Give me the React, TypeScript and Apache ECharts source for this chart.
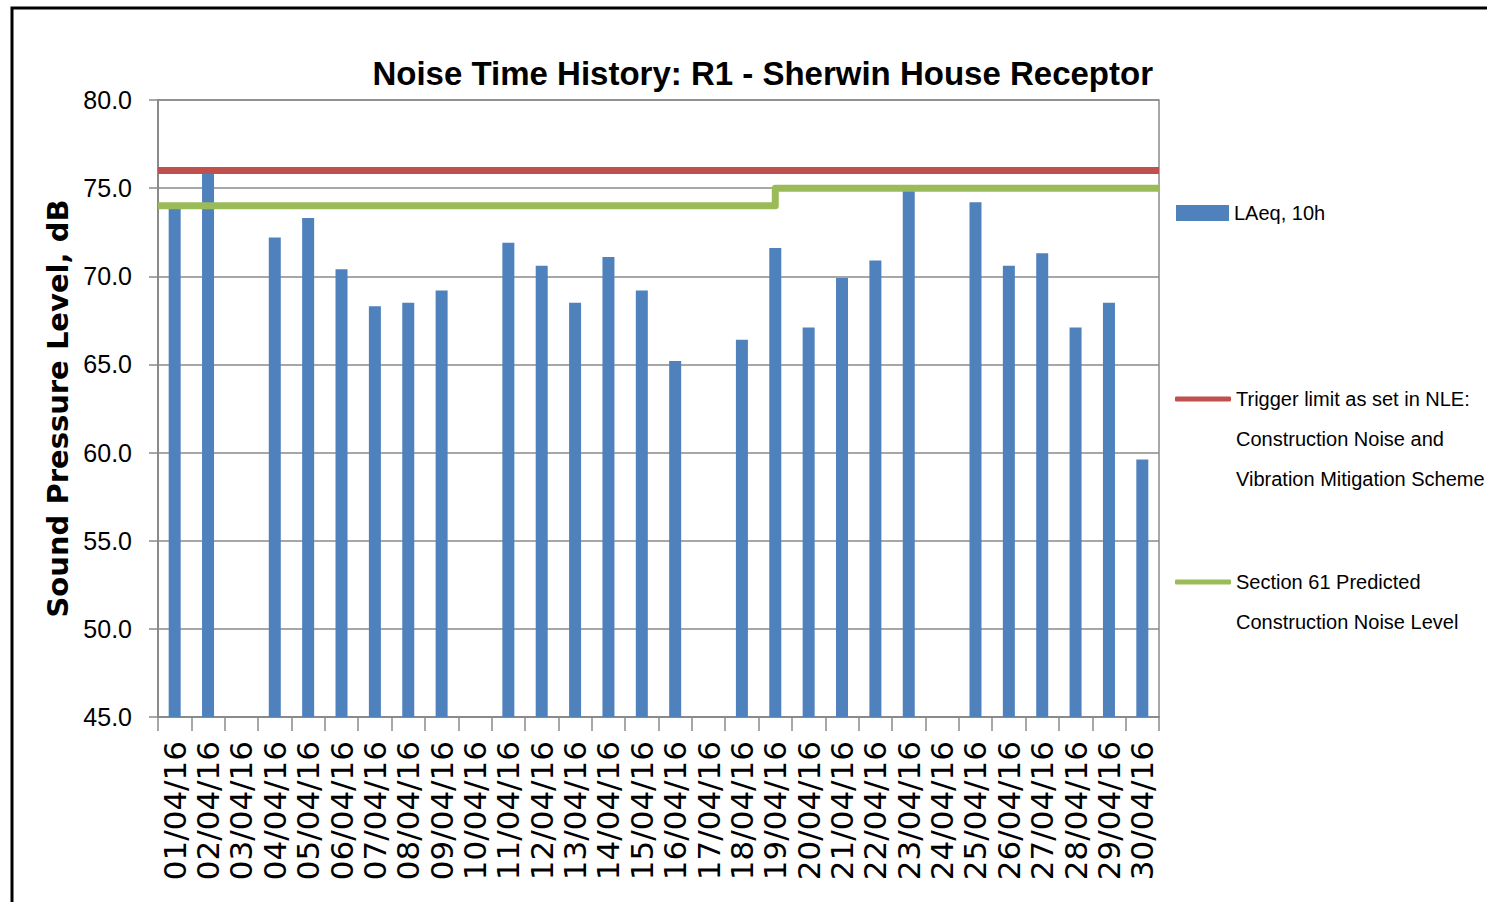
import React, { useEffect, useRef } from "react";
import * as echarts from "echarts";

const categories = [
  "01/04/16", "02/04/16", "03/04/16", "04/04/16", "05/04/16", "06/04/16",
  "07/04/16", "08/04/16", "09/04/16", "10/04/16", "11/04/16", "12/04/16",
  "13/04/16", "14/04/16", "15/04/16", "16/04/16", "17/04/16", "18/04/16",
  "19/04/16", "20/04/16", "21/04/16", "22/04/16", "23/04/16", "24/04/16",
  "25/04/16", "26/04/16", "27/04/16", "28/04/16", "29/04/16", "30/04/16",
];

const laeq10h: (number | null)[] = [
  73.9, 75.9, null, 72.2, 73.3, 70.4, 68.3, 68.5, 69.2, null,
  71.9, 70.6, 68.5, 71.1, 69.2, 65.2, null, 66.4, 71.6, 67.1,
  69.9, 70.9, 74.9, null, 74.2, 70.6, 71.3, 67.1, 68.5, 59.6,
];

// Trigger limit (constant across the month), positions on a 0..30 day scale
const triggerX = [0, 30];
const triggerLevel = [76, 76];

// Section 61 predicted level: 74 dB until 19/04, 75 dB afterwards
const s61X = [0, 18.5, 18.5, 30];
const s61Level = [74, 74, 75, 75];

const yTicks = { min: 45, max: 80, interval: 5 };

const NAME_BAR = "LAeq, 10h";
const NAME_TRIGGER =
  "\n\nTrigger limit as set in NLE:\nConstruction Noise and\nVibration Mitigation Scheme";
const NAME_S61 = "\nSection 61 Predicted\nConstruction Noise Level";

export default function App() {
  const ref = useRef<HTMLDivElement>(null);

  useEffect(() => {
    if (!ref.current) return;
    const chart = echarts.init(ref.current, undefined, { renderer: "svg" });
    const sans = "'Liberation Sans', Arial, sans-serif";
    const legendText = {
      fontFamily: sans,
      fontSize: 20,
      lineHeight: 40,
      color: "#000",
    };

    chart.setOption({
      animation: false,
      backgroundColor: "#ffffff",
      title: {
        text: "Noise Time History: R1 - Sherwin House Receptor",
        right: 334,
        top: 57,
        padding: 0,
        textStyle: {
          fontFamily: sans,
          fontWeight: "bold",
          fontSize: 33,
          color: "#000",
        },
      },
      graphic: [
        {
          type: "rect",
          shape: { x: 12, y: 8, width: 1600, height: 1000 },
          style: { fill: "none", stroke: "#000", lineWidth: 3 },
          silent: true,
        },
      ],
      grid: {
        left: 158,
        top: 100,
        right: 328,
        bottom: 185,
        show: true,
        borderColor: "#8a8a8a",
        borderWidth: 1.5,
        containLabel: false,
      },
      legend: [
        {
          data: [NAME_BAR],
          orient: "vertical",
          left: 1176,
          top: 193,
          padding: 0,
          itemWidth: 53,
          itemHeight: 16,
          icon: "rect",
          textStyle: legendText,
        },
        {
          data: [NAME_TRIGGER],
          orient: "vertical",
          left: 1175,
          top: 299,
          padding: 0,
          itemWidth: 56,
          itemHeight: 5,
          itemGap: 4,
          icon: "roundRect",
          textStyle: legendText,
        },
        {
          data: [NAME_S61],
          orient: "vertical",
          left: 1175,
          top: 522,
          padding: 0,
          itemWidth: 56,
          itemHeight: 5,
          icon: "roundRect",
          textStyle: legendText,
        },
      ],
      xAxis: [
        {
          type: "category",
          data: categories,
          boundaryGap: true,
          axisLine: { lineStyle: { color: "#8a8a8a", width: 2 } },
          axisTick: {
            show: true,
            length: 14,
            alignWithLabel: false,
            lineStyle: { color: "#8a8a8a", width: 1.5 },
          },
          axisLabel: {
            rotate: 90,
            interval: 0,
            margin: 24,
            fontFamily: "'DejaVu Sans', Verdana, sans-serif",
            fontSize: 31,
            color: "#000",
          },
          splitLine: { show: false },
        },
        {
          type: "value",
          min: 0,
          max: 30,
          show: false,
          position: "bottom",
        },
      ],
      yAxis: {
        type: "value",
        min: yTicks.min,
        max: yTicks.max,
        interval: yTicks.interval,
        name: "Sound Pressure Level, dB",
        nameLocation: "middle",
        nameRotate: 90,
        nameGap: 84,
        nameTextStyle: {
          fontFamily: "'DejaVu Sans', Verdana, sans-serif",
          fontWeight: "bold",
          fontSize: 29,
          color: "#000",
        },
        axisLine: { show: true, lineStyle: { color: "#8a8a8a", width: 2 } },
        axisTick: {
          show: true,
          length: 9,
          lineStyle: { color: "#8a8a8a", width: 1.5 },
        },
        axisLabel: {
          margin: 26,
          fontFamily: sans,
          fontSize: 25,
          color: "#000",
          formatter: (v: number) => v.toFixed(1),
        },
        splitLine: { show: true, lineStyle: { color: "#8a8a8a", width: 1.5 } },
      },
      series: [
        {
          name: NAME_BAR,
          type: "bar",
          xAxisIndex: 0,
          data: laeq10h,
          barWidth: 12,
          itemStyle: { color: "#4f81bd" },
          z: 2,
        },
        {
          name: NAME_TRIGGER,
          type: "line",
          xAxisIndex: 1,
          data: triggerX.map((x, i) => [x, triggerLevel[i]]),
          showSymbol: false,
          symbol: "none",
          lineStyle: { color: "#c0504d", width: 7 },
          itemStyle: { color: "#c0504d" },
          z: 3,
        },
        {
          name: NAME_S61,
          type: "line",
          xAxisIndex: 1,
          data: s61X.map((x, i) => [x, s61Level[i]]),
          showSymbol: false,
          symbol: "none",
          lineStyle: { color: "#9bbb59", width: 7, join: "round" },
          itemStyle: { color: "#9bbb59" },
          z: 3,
        },
      ],
    });

    return () => chart.dispose();
  }, []);

  return (
    <div
      ref={ref}
      style={{ position: "fixed", left: 0, top: 0, width: 1487, height: 902 }}
    />
  );
}
